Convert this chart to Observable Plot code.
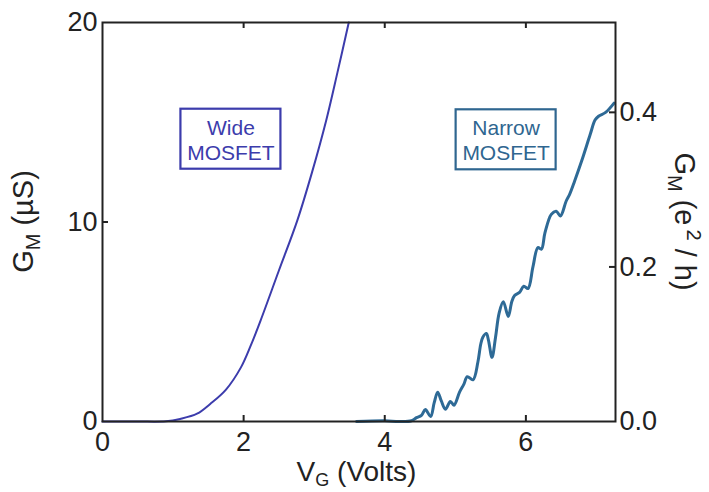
<!DOCTYPE html>
<html>
<head>
<meta charset="utf-8">
<script src="https://cdn.jsdelivr.net/npm/d3@7"></script>
<script src="https://cdn.jsdelivr.net/npm/@observablehq/plot@0.6"></script>
<style>
  html, body { margin: 0; padding: 0; background: #fff; overflow: hidden; }
</style>
</head>
<body>
<div id="chart"></div>
<script>
// Conductance quantum e^2/h in microsiemens (used to link the two y axes)
const E2H = 38.74;

// Wide MOSFET: gate voltage (V) and conductance (µS)
const wideV = [0, 0.5, 0.9, 1.1, 1.34, 1.53, 1.75, 1.96, 2.1, 2.24, 2.5, 2.76, 2.97, 3.17, 3.33, 3.49];
const wideG = [0, 0, 0.01, 0.13, 0.39, 0.89, 1.6, 2.7, 3.8, 5.06, 7.57, 10.07, 12.5, 15.09, 17.5, 20.0];

// Narrow MOSFET: gate voltage (V) and conductance (e^2/h)
const narrowV = [3.60, 4.00, 4.20, 4.38, 4.45, 4.52, 4.575, 4.65, 4.70, 4.75, 4.80, 4.86, 4.93, 4.98, 5.06, 5.12, 5.17, 5.25, 5.32, 5.36, 5.39, 5.44, 5.47, 5.52, 5.57, 5.62, 5.68, 5.75, 5.80, 5.84, 5.91, 5.97, 6.03, 6.10, 6.17, 6.22, 6.27, 6.36, 6.43, 6.49, 6.57, 6.62, 6.69, 6.79, 6.91, 6.98, 7.03, 7.13, 7.25];
const narrowG = [0.000, 0.001, 0.000, 0.001, 0.005, 0.008, 0.0155, 0.0065, 0.024, 0.038, 0.027, 0.016, 0.026, 0.021, 0.038, 0.048, 0.058, 0.054, 0.077, 0.100, 0.109, 0.114, 0.105, 0.083, 0.109, 0.140, 0.155, 0.136, 0.155, 0.163, 0.167, 0.175, 0.172, 0.200, 0.225, 0.223, 0.244, 0.268, 0.272, 0.266, 0.285, 0.294, 0.311, 0.337, 0.371, 0.390, 0.395, 0.400, 0.412];

// Axis ticks
const xTicks = [0, 2, 4, 6];
const yTicksLeft = [0, 10, 20];
const yTicksRight = [0, 0.2, 0.4];

// Annotation labels (centre in data units, µS for y)
const labelNames = ["Wide\nMOSFET", "Narrow\nMOSFET"];
const labelV = [1.82, 5.72];
const labelG = [14.15, 14.12];

const wide = wideV.map((v, i) => ({v, g: wideG[i]}));
const narrow = narrowV.map((v, i) => ({v, g: narrowG[i]}));
const labels = labelNames.map((t, i) => ({text: t, v: labelV[i], g: labelG[i], k: i}));

const W = 709, H = 492;
const mL = 102, mR = 94, mT = 22, mB = 71;
const frameW = W - mL - mR, frameH = H - mT - mB;
const xMax = 7.27;
const pxPerV = frameW / xMax, pxPerG = frameH / 20;
const boxHalfW = 50 / pxPerV, boxHalfH = 30 / pxPerG;

const wideColor = "#3c3cac";
const narrowColor = "#2e6a96";
const labelColors = ["#3c3cac", "#2f6690"];
const ink = "#222";

const plot = Plot.plot({
  width: W, height: H,
  marginLeft: mL, marginRight: mR, marginTop: mT, marginBottom: mB,
  style: {fontFamily: "'Liberation Sans', Arial, Helvetica, sans-serif", fontSize: "27px", color: ink, background: "#fff", overflow: "visible"},
  x: {domain: [0, xMax]},
  y: {domain: [0, 20]},
  marks: [
    Plot.line(wide, {x: "v", y: "g", stroke: wideColor, strokeWidth: 2, curve: "catmull-rom"}),
    Plot.line(narrow, {x: "v", y: d => d.g * E2H, stroke: narrowColor, strokeWidth: 3, curve: "catmull-rom"}),
    Plot.rect(labels, {x1: d => d.v - boxHalfW, x2: d => d.v + boxHalfW, y1: d => d.g - boxHalfH, y2: d => d.g + boxHalfH,
      fill: "none", stroke: d => labelColors[d.k], strokeWidth: 2.2}),
    Plot.text(labels, {x: "v", y: "g", text: "text", fill: d => labelColors[d.k], fontSize: 21, lineHeight: 1.2, textAnchor: "middle", lineAnchor: "middle"}),
    // inward ticks
    Plot.tickX(xTicks.slice(1), {x: d => d, stroke: ink, strokeWidth: 2, insetTop: frameH - 6}),
    Plot.tickX(xTicks.slice(1), {x: d => d, stroke: ink, strokeWidth: 2, insetBottom: frameH - 6}),
    Plot.tickY([10], {y: d => d, stroke: ink, strokeWidth: 2, insetRight: frameW - 6}),
    Plot.tickY(yTicksRight.slice(1), {y: d => d * E2H, stroke: ink, strokeWidth: 2, insetLeft: frameW - 6}),
    Plot.axisX({ticks: xTicks, tickSize: 0, tickPadding: 10, label: null, fontSize: 27}),
    Plot.axisY({ticks: yTicksLeft, tickSize: 0, tickPadding: 5, label: null, fontSize: 27}),
    Plot.axisY({anchor: "right", ticks: yTicksRight.map(v => v * E2H), tickFormat: d => (d / E2H).toFixed(1), tickSize: 0, tickPadding: 4, label: null, fontSize: 27}),
    Plot.frame({stroke: ink, strokeWidth: 2})
  ]
});

document.getElementById("chart").appendChild(plot);

// Axis titles with subscripts / superscripts
const svg = d3.select(plot);
const fam = "'Liberation Sans', Arial, Helvetica, sans-serif";

const xl = svg.append("text")
  .attr("x", mL + frameW / 2 - 2).attr("y", 481)
  .attr("text-anchor", "middle").attr("font-family", fam).attr("font-size", 28).attr("fill", ink);
xl.append("tspan").text("V");
xl.append("tspan").attr("font-size", 18).attr("dy", 5).text("G");
xl.append("tspan").attr("dy", -5).text(" (Volts)");

const yl = svg.append("text")
  .attr("transform", `translate(33,${mT + frameH / 2}) rotate(-90)`)
  .attr("text-anchor", "middle").attr("font-family", fam).attr("font-size", 29).attr("fill", ink);
yl.append("tspan").text("G");
yl.append("tspan").attr("font-size", 20).attr("dy", 7).text("M");
yl.append("tspan").attr("dy", -7).text(" (µS)");

const yr = svg.append("text")
  .attr("transform", `translate(675,${mT + frameH / 2}) rotate(90)`)
  .attr("text-anchor", "middle").attr("font-family", fam).attr("font-size", 29).attr("fill", ink);
yr.append("tspan").text("G");
yr.append("tspan").attr("font-size", 20).attr("dy", 7).text("M");
yr.append("tspan").attr("dy", -7).text(" (e");
yr.append("tspan").attr("font-size", 20).attr("dy", -12).attr("dx", 4).text("2");
yr.append("tspan").attr("dy", 12).text(" / h)");
</script>
</body>
</html>
